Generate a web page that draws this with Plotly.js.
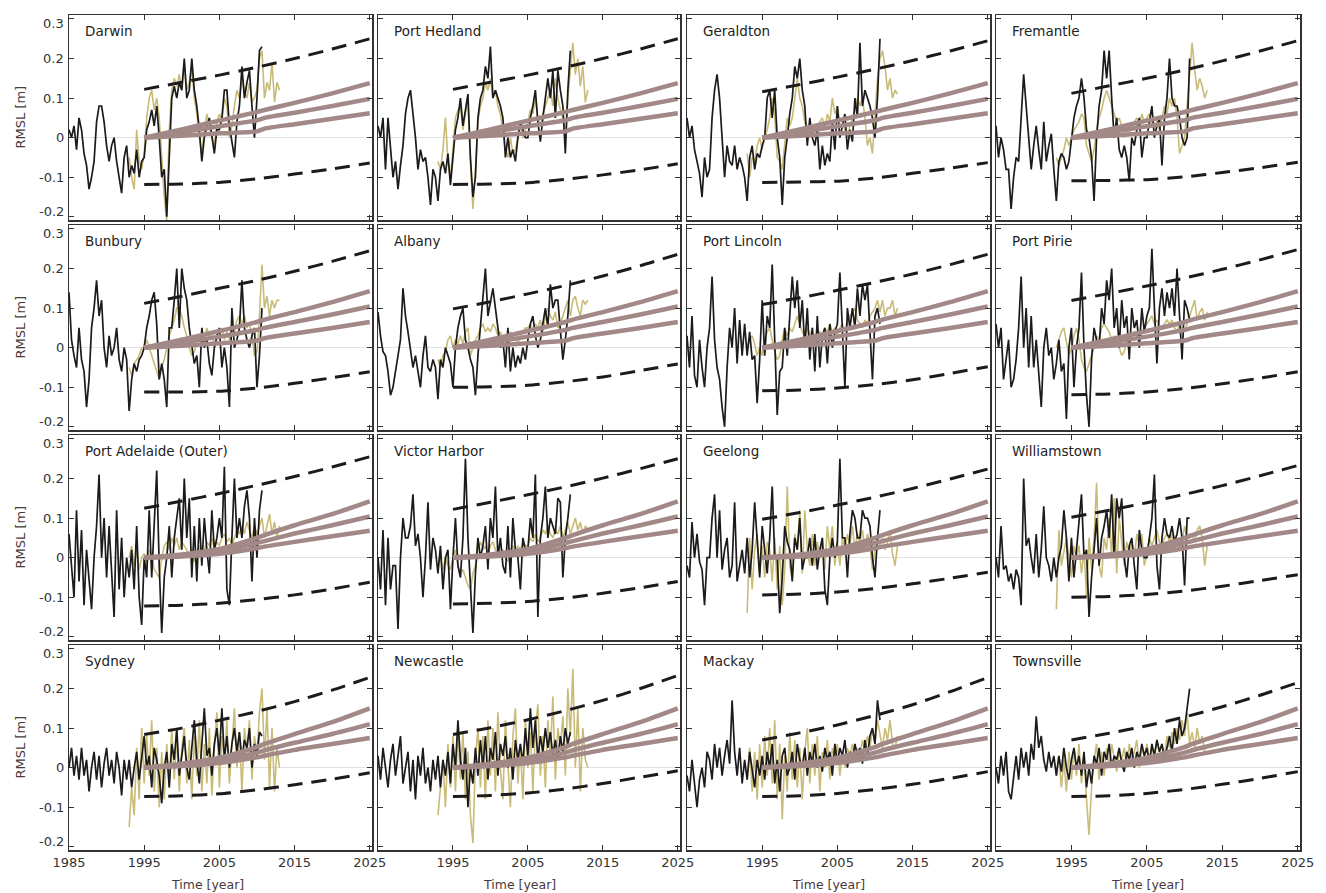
<!DOCTYPE html>
<html>
<head>
<meta charset="utf-8">
<script src="https://cdn.plot.ly/plotly-3.0.1.min.js"></script>
<style>
html,body{margin:0;padding:0;background:#fff;}
#chart{width:1326px;height:893px;}
</style>
</head>
<body>
<div id="chart"></div>
<script>
// ---------------- DATA ----------------
const tgStart = 1985;      // first tide-gauge sample (year)
const altStart = 1993;     // first altimetry sample (year)
const sampleStep = 1 / 3;  // sampling interval (years)

const stationNames = ["Darwin", "Port Hedland", "Geraldton", "Fremantle",
  "Bunbury", "Albany", "Port Lincoln", "Port Pirie",
  "Port Adelaide (Outer)", "Victor Harbor", "Geelong", "Williamstown",
  "Sydney", "Newcastle", "Mackay", "Townsville"];

const xTickVals = [1985, 1995, 2005, 2015, 2025];
const yTickVals = [-0.2, -0.1, 0, 0.1, 0.2, 0.3];
const yTickText = ["-0.2", "-0.1", "0", "0.1", "0.2", "0.3"];

const envYears = [1995, 2000, 2005, 2010, 2015, 2020, 2025];
const projYears = [1995, 2000, 2005, 2010, 2011, 2015, 2020, 2025];

// projections (rows of panels)
const projHiRow1 = [0, 0.021, 0.043, 0.065, 0.07, 0.088, 0.112, 0.138];
const projMidRow1 = [0, 0.014, 0.029, 0.044, 0.05, 0.063, 0.08, 0.098];
const projLoRow1 = [0, 0.005, 0.011, 0.016, 0.023, 0.034, 0.048, 0.062];
const projHiRow2 = [0, 0.02, 0.042, 0.065, 0.071, 0.09, 0.115, 0.143];
const projMidRow2 = [0, 0.013, 0.028, 0.045, 0.05, 0.065, 0.084, 0.104];
const projLoRow2 = [0, 0.005, 0.011, 0.018, 0.024, 0.036, 0.05, 0.065];
const projHiRow3 = [0, 0.008, 0.022, 0.05, 0.057, 0.082, 0.11, 0.142];
const projMidRow3 = [0, 0.005, 0.016, 0.037, 0.042, 0.061, 0.082, 0.104];
const projLoRow3 = [0, 0.003, 0.01, 0.024, 0.028, 0.04, 0.054, 0.068];
const projHiRow4 = [0, 0.01, 0.025, 0.052, 0.06, 0.085, 0.115, 0.15];
const projMidRow4 = [0, 0.007, 0.018, 0.038, 0.044, 0.063, 0.085, 0.11];
const projLoRow4 = [0, 0.004, 0.012, 0.026, 0.03, 0.045, 0.06, 0.075];

// envelopes (upper / lower dashed)
const darwinUp = [0.122, 0.14, 0.158, 0.178, 0.2, 0.224, 0.25];
const darwinLo = [-0.118, -0.117, -0.113, -0.104, -0.092, -0.079, -0.064];
const portHedlandUp = [0.122, 0.14, 0.158, 0.178, 0.2, 0.224, 0.25];
const portHedlandLo = [-0.118, -0.117, -0.114, -0.105, -0.094, -0.081, -0.066];
const geraldtonUp = [0.116, 0.134, 0.153, 0.173, 0.195, 0.219, 0.245];
const geraldtonLo = [-0.113, -0.112, -0.11, -0.102, -0.09, -0.077, -0.063];
const fremantleUp = [0.112, 0.131, 0.15, 0.171, 0.194, 0.219, 0.245];
const fremantleLo = [-0.109, -0.108, -0.106, -0.099, -0.088, -0.076, -0.062];
const bunburyUp = [0.112, 0.13, 0.15, 0.17, 0.193, 0.218, 0.245];
const bunburyLo = [-0.112, -0.112, -0.11, -0.102, -0.09, -0.076, -0.061];
const albanyUp = [0.098, 0.116, 0.136, 0.157, 0.181, 0.207, 0.236];
const albanyLo = [-0.1, -0.099, -0.095, -0.086, -0.074, -0.058, -0.041];
const portLincolnUp = [0.109, 0.126, 0.145, 0.165, 0.186, 0.21, 0.236];
const portLincolnLo = [-0.109, -0.107, -0.102, -0.093, -0.081, -0.065, -0.048];
const portPirieUp = [0.119, 0.137, 0.156, 0.176, 0.198, 0.222, 0.248];
const portPirieLo = [-0.119, -0.117, -0.112, -0.103, -0.091, -0.077, -0.061];
const portAdelaideUp = [0.125, 0.143, 0.162, 0.183, 0.205, 0.229, 0.255];
const portAdelaideLo = [-0.122, -0.12, -0.115, -0.106, -0.094, -0.079, -0.062];
const victorHarborUp = [0.122, 0.14, 0.159, 0.179, 0.201, 0.225, 0.25];
const victorHarborLo = [-0.117, -0.115, -0.111, -0.102, -0.09, -0.076, -0.06];
const geelongUp = [0.097, 0.114, 0.133, 0.153, 0.175, 0.199, 0.224];
const geelongLo = [-0.094, -0.092, -0.087, -0.078, -0.066, -0.052, -0.037];
const williamstownUp = [0.102, 0.12, 0.139, 0.16, 0.182, 0.207, 0.233];
const williamstownLo = [-0.1, -0.098, -0.093, -0.084, -0.072, -0.058, -0.043];
const sydneyUp = [0.084, 0.1, 0.12, 0.142, 0.167, 0.196, 0.228];
const sydneyLo = [-0.073, -0.071, -0.066, -0.056, -0.043, -0.029, -0.013];
const newcastleUp = [0.084, 0.101, 0.121, 0.144, 0.17, 0.2, 0.233];
const newcastleLo = [-0.073, -0.07, -0.064, -0.054, -0.04, -0.024, -0.008];
const mackayUp = [0.07, 0.088, 0.108, 0.132, 0.159, 0.192, 0.228];
const mackayLo = [-0.073, -0.071, -0.065, -0.055, -0.042, -0.027, -0.01];
const townsvilleUp = [0.07, 0.087, 0.106, 0.128, 0.154, 0.183, 0.215];
const townsvilleLo = [-0.073, -0.071, -0.065, -0.055, -0.042, -0.027, -0.01];

// tide gauge (black), from 1985 every 1/3 year
const darwinTG = [0.02,0.0,0.03, -0.03,0.05,0.02, -0.04,-0.07,-0.13, -0.1,-0.06,0.04, 0.08,0.08,0.04,
  -0.02,-0.06,-0.02, 0.0,-0.06,-0.1, -0.14,-0.05,-0.02, -0.1,-0.07,-0.09, -0.03,-0.1,-0.06,
  -0.05,0.02,0.04, 0.07,0.03,0.08, 0.0,-0.1,-0.08, -0.2,-0.05,0.1, 0.13,0.1,0.14,
  0.12,0.2,0.1, 0.12,0.2,0.12, 0.08,0.02,-0.06, 0.0,0.03,0.05, 0.0,-0.04,0.02,
  0.02,0.05,0.12, 0.12,0.03,-0.01, -0.05,0.04,0.08, 0.18,0.1,0.14, 0.17,0.08,0.0, 0.1,0.22,0.23];
const portHedlandTG = [0.03,0.0,0.05, -0.08,0.05,-0.03, -0.1,-0.06,-0.13, -0.07,-0.02,0.06, 0.1,0.12,0.06,
  0.0,-0.08,-0.03, -0.06,-0.05,-0.1, -0.17,-0.08,-0.1, -0.16,-0.08,-0.06, -0.09,-0.04,-0.12,
  -0.05,0.02,0.05, 0.1,0.03,0.07, 0.11,-0.05,-0.15, -0.1,0.05,0.1, 0.12,0.18,0.15,
  0.23,0.1,0.12, 0.1,0.08,0.05, -0.05,0.0,-0.05, -0.03,-0.06,0.0, 0.04,0.02,0.0,
  0.0,0.05,0.08, 0.12,0.04,-0.01, 0.05,0.1,0.15, 0.1,0.17,0.05, 0.17,0.12,0.08, -0.04,0.12,0.22];
const geraldtonTG = [0.05,0.0,0.03, -0.03,-0.06,-0.09, -0.15,-0.05,-0.1, -0.08,0.05,0.12, 0.16,0.1,0.0,
  -0.1,-0.02,-0.06, -0.07,-0.02,-0.08, -0.05,-0.07,-0.1, -0.16,-0.05,-0.02, -0.08,-0.04,-0.05,
  -0.02,0.0,0.1, 0.12,0.05,0.12, 0.0,-0.05,-0.17, -0.05,0.0,0.06, 0.1,0.18,0.15,
  0.2,0.12,0.08, -0.02,0.05,0.0, -0.02,0.02,-0.08, -0.02,-0.07,-0.04, -0.06,0.04,-0.03,
  0.08,0.0,0.03, 0.06,-0.03,0.02, -0.01,0.1,0.05, 0.24,0.08,0.12, 0.1,0.08,0.05, 0.0,0.1,0.25];
const fremantleTG = [0.03,-0.05,0.0, -0.03,-0.08,-0.08, -0.18,-0.1,-0.05, -0.06,0.05,0.16, 0.08,0.0,-0.08,
  -0.02,0.03,-0.03, -0.08,0.04,-0.06, -0.02,0.01,-0.08, -0.16,-0.06,-0.04, -0.05,-0.08,-0.06,
  0.0,0.05,0.08, 0.1,0.15,0.1, 0.02,0.0,-0.05, -0.16,0.0,0.08, 0.12,0.22,0.15,
  0.22,0.1,0.0, 0.05,-0.03,-0.05, -0.02,-0.05,-0.11, 0.0,-0.02,0.02, 0.05,-0.05,0.0,
  0.0,0.04,0.08, 0.0,0.03,0.05, -0.07,0.05,0.1, 0.2,0.1,0.08, 0.08,0.05,0.0, -0.02,0.0,0.2];
const bunburyTG = [0.14,0.02,-0.02, -0.05,0.05,-0.03, -0.06,-0.15,-0.08, 0.05,0.1,0.17, 0.08,0.12,0.0,
  -0.05,0.03,-0.02, 0.0,0.05,-0.03, -0.06,0.0,-0.03, -0.16,-0.08,-0.04, -0.06,-0.03,-0.02,
  0.0,0.05,0.08, 0.12,0.14,0.06, -0.08,-0.04,-0.08, -0.15,0.05,0.05, 0.12,0.2,0.05,
  0.2,0.15,0.12, 0.05,0.0,-0.04, -0.02,-0.1,0.05, 0.0,0.02,-0.04, -0.07,0.0,0.03,
  0.05,-0.05,0.0, -0.05,-0.15,0.1, 0.0,0.02,0.05, 0.17,0.05,0.02, 0.0,0.03,0.05, -0.1,-0.02,0.1];
const albanyTG = [0.09,0.03,-0.01, -0.02,-0.06,-0.12, -0.1,-0.06,-0.02, 0.02,0.15,0.08, 0.04,0.0,-0.05,
  -0.02,-0.06,-0.1, -0.02,0.03,-0.05, -0.06,-0.03,-0.05, -0.13,-0.03,-0.05, 0.0,-0.02,-0.04,
  -0.1,0.0,0.05, 0.08,0.1,0.02, 0.0,-0.03,-0.05, -0.12,-0.02,0.06, 0.12,0.2,0.08,
  0.12,0.15,0.1, 0.05,0.0,0.02, -0.05,0.05,-0.06, 0.0,-0.05,-0.02, -0.04,0.0,-0.03,
  0.02,0.06,0.08, 0.03,0.0,0.02, 0.06,0.1,0.05, 0.16,0.1,0.12, 0.12,0.05,-0.03, 0.02,0.08,0.17];
const portLincolnTG = [0.03,-0.05,0.08, -0.07,-0.1,0.02, -0.05,-0.1,0.0, 0.05,0.18,0.02, -0.05,-0.08,-0.15,
  -0.2,-0.05,0.05, 0.0,0.1,-0.04, 0.07,-0.02,0.06, -0.02,0.04,-0.03, -0.02,-0.14,-0.03,
  0.12,-0.02,0.08, 0.05,0.21,0.0, -0.17,-0.06,-0.05, 0.05,-0.02,0.08, 0.18,0.1,0.17,
  0.05,0.12,0.0, 0.1,-0.03,0.05, -0.06,0.08,-0.05, 0.03,0.05,-0.04, 0.06,0.0,0.04,
  0.06,0.19,0.05, -0.1,0.1,0.05, 0.1,0.05,0.15, 0.08,0.16,0.12, 0.16,0.05,-0.08, 0.08,0.1,0.06];
const portPirieTG = [0.06,0.0,0.05, -0.08,-0.03,0.02, -0.1,-0.08,-0.03, 0.05,0.18,0.0, 0.1,-0.05,0.08,
  -0.05,0.02,-0.06, -0.15,0.0,0.05, -0.02,0.0,-0.08, -0.04,0.02,-0.06, -0.04,-0.18,0.0,
  0.05,-0.1,0.0, 0.05,0.19,0.0, -0.12,-0.2,-0.03, 0.05,0.02,0.0, 0.1,0.06,0.17,
  0.12,0.2,0.05, 0.1,0.0,0.12, 0.05,0.08,-0.03, 0.1,0.05,0.07, 0.0,0.1,0.04,
  0.08,0.1,0.25, 0.1,-0.04,0.1, 0.15,0.08,0.14, 0.1,0.15,0.08, 0.2,0.08,-0.03, 0.12,0.1,0.07];
const portAdelaideTG = [0.06,-0.02,-0.1, 0.12,-0.06,0.07, -0.12,0.02,-0.05, -0.13,0.0,0.08, 0.21,0.0,0.1,
  -0.05,0.08,-0.03, -0.15,0.12,-0.08, 0.05,-0.1,0.0, -0.05,0.02,-0.08, 0.08,-0.1,-0.17,
  0.0,-0.05,0.12, -0.05,0.07,0.22, -0.02,-0.19,-0.05, 0.0,0.08,-0.05, 0.05,0.1,0.15,
  0.02,0.2,0.05, 0.15,-0.05,0.08, -0.06,0.1,-0.02, 0.1,0.02,-0.04, 0.12,0.02,0.05,
  0.1,0.05,0.23, -0.08,-0.12,0.05, 0.2,0.05,0.1, 0.05,0.13,0.17, 0.1,-0.06,0.1, 0.0,0.12,0.17];
const victorHarborTG = [0.0,-0.08,0.07, -0.12,0.05,-0.08, -0.02,-0.02,-0.18, 0.0,0.1,0.05, 0.05,0.08,0.16,
  0.03,0.06,0.0, -0.1,0.0,0.14, -0.03,0.05,0.02, -0.04,0.03,-0.08, 0.0,0.02,-0.13,
  0.0,0.1,-0.02, -0.05,0.05,0.25, 0.05,-0.08,-0.19, -0.04,0.05,0.0, 0.03,0.08,-0.03,
  0.1,0.05,0.18, 0.0,0.05,-0.02, -0.04,0.08,-0.05, 0.1,0.02,0.0, -0.08,0.05,0.02,
  0.02,0.1,0.05, 0.21,-0.15,0.05, 0.1,0.18,0.05, 0.1,0.08,0.06, 0.15,0.14,-0.05, 0.05,0.1,0.16];
const geelongTG = [-0.02,-0.05,0.09, 0.0,0.06,-0.01, -0.03,-0.12,0.0, 0.0,0.1,0.16, 0.0,0.12,-0.03,
  0.02,0.05,-0.05, -0.02,0.14,-0.06, -0.02,0.02,-0.04, 0.05,-0.05,0.02, 0.14,0.05,-0.05,
  0.08,0.02,-0.04, 0.05,0.18,0.0, 0.0,-0.14,-0.05, 0.08,0.04,0.02, -0.06,0.05,0.02,
  0.1,-0.03,0.0, 0.0,0.05,-0.02, 0.06,-0.03,0.02, 0.05,-0.08,-0.12, 0.0,0.05,0.0,
  0.04,0.25,0.05, 0.05,-0.05,0.06, 0.12,0.1,0.05, 0.05,0.12,0.1, 0.1,0.08,0.0, -0.05,0.05,0.12];
const williamstownTG = [0.0,-0.05,0.08, -0.03,-0.02,-0.06, -0.04,-0.08,-0.03, -0.05,-0.12,0.2, 0.03,0.05,0.0,
  -0.04,0.06,-0.05, 0.02,0.13,0.0, -0.02,-0.06,0.0, -0.05,0.0,0.03, 0.12,0.05,-0.06,
  0.05,-0.05,0.02, 0.1,0.16,0.0, 0.02,-0.15,-0.05, 0.02,0.1,-0.02, 0.05,0.08,0.12,
  0.05,0.16,0.0, 0.15,0.1,0.15, 0.0,-0.05,0.03, 0.05,-0.02,-0.08, 0.07,0.02,0.0,
  0.0,0.05,0.1, 0.21,-0.02,-0.08, 0.05,0.1,0.06, 0.05,0.08,0.04, 0.06,0.1,0.05, -0.07,0.1,0.1];
const sydneyTG = [0.0,0.05,-0.02, 0.03,-0.03,0.05, -0.02,0.02,-0.06, 0.0,0.04,-0.03, 0.03,-0.05,0.01,
  0.05,-0.02,0.02, -0.04,0.04,0.0, -0.07,0.02,-0.03, 0.02,-0.05,0.0, 0.04,-0.03,0.02,
  0.08,0.0,0.03, -0.05,0.05,0.02, -0.02,-0.09,0.0, 0.04,-0.05,0.06, 0.02,0.1,-0.02,
  0.03,0.08,0.0, -0.03,0.05,0.12, 0.02,-0.04,0.06, 0.15,0.03,0.05, -0.02,0.06,0.1,
  0.03,0.15,0.02, 0.08,0.0,0.06, 0.1,0.04,0.09, 0.02,0.07,0.05, 0.1,0.0,0.06, 0.03,0.09,0.08];
const newcastleTG = [0.03,-0.03,0.05, 0.0,-0.05,0.02, 0.06,-0.02,0.03, 0.08,-0.04,0.0, 0.04,-0.06,0.02,
  -0.08,0.03,-0.02, 0.05,-0.04,0.0, -0.06,0.02,-0.03, 0.03,-0.05,0.02, -0.02,0.04,-0.04,
  0.06,0.0,0.12, 0.02,-0.03,0.05, -0.1,0.0,-0.04, 0.05,-0.02,0.07, 0.0,0.08,-0.03,
  0.05,0.02,0.09, -0.02,0.06,0.03, 0.08,0.0,0.05, -0.03,0.07,0.02, 0.06,0.01,0.1,
  0.03,0.15,0.05, 0.12,0.02,0.08, 0.04,0.1,0.05, 0.09,0.03,0.07, 0.02,0.08,0.04, 0.1,0.06,0.09];
const mackayTG = [-0.02,-0.06,0.02, -0.04,-0.1,-0.03, 0.0,-0.05,0.04, 0.02,-0.03,0.06, 0.0,0.05,-0.02,
  0.03,0.07,0.01, 0.17,0.04,-0.02, 0.05,-0.04,0.02, -0.03,0.04,0.0, -0.05,0.02,-0.02,
  0.03,-0.03,0.04, 0.0,0.06,-0.04, 0.02,-0.06,0.03, 0.05,-0.02,0.0, 0.04,-0.03,0.06,
  0.02,0.0,0.05, -0.02,0.04,0.01, 0.06,0.0,0.03, -0.01,0.05,0.02, 0.04,-0.02,0.06,
  0.01,0.05,0.03, 0.07,0.0,0.04, 0.02,0.06,0.03, 0.05,0.01,0.07, 0.03,0.08,0.1, 0.06,0.17,0.12];
const townsvilleTG = [0.0,-0.04,0.03, -0.02,0.04,-0.06, -0.08,-0.02,0.03, -0.03,0.05,0.0, 0.04,-0.02,0.06,
  0.02,0.13,0.05, 0.08,0.02,-0.01, 0.04,0.0,0.03, -0.02,0.03,-0.01, 0.05,0.0,-0.03,
  0.02,0.05,0.0, 0.03,-0.02,0.04, -0.05,0.0,-0.04, 0.03,0.01,0.05, -0.02,0.04,0.02,
  0.06,0.0,0.03, 0.02,0.05,0.01, -0.01,0.04,0.02, 0.05,0.0,0.04, 0.02,0.06,0.03,
  0.05,0.01,0.06, 0.03,0.07,0.04, 0.06,0.02,0.05, 0.08,0.04,0.1, 0.06,0.12,0.08, 0.1,0.15,0.2];

// altimetry (khaki), from 1993 every 1/3 year
const darwinAlt = [-0.05,-0.1,-0.13, 0.02,-0.06,-0.08, -0.04,0.05,0.1, 0.12,0.07,0.1, 0.05,-0.05,-0.15,
  -0.21,0.02,0.12, 0.15,0.13,0.16, 0.12,0.19,0.12, 0.14,0.18,0.1, 0.06,0.0,-0.04,
  0.02,0.06,0.03, 0.0,-0.02,0.04, 0.06,0.04,0.1, 0.08,0.0,0.03, 0.08,0.12,0.1,
  0.15,0.12,0.1, 0.14,0.09,0.1, 0.12,0.2,0.22, 0.1,0.14,0.12, 0.19,0.09,0.14, 0.12];
const portHedlandAlt = [-0.06,-0.08,-0.03, 0.05,-0.06,-0.1, -0.03,0.05,0.07, 0.08,0.02,0.06, 0.1,-0.06,-0.18,
  -0.08,0.04,0.08, 0.1,0.14,0.12, 0.15,0.1,0.12, 0.08,0.06,0.02, -0.03,-0.05,0.0,
  -0.04,-0.03,0.0, 0.03,0.0,0.02, 0.04,0.07,0.06, 0.1,0.05,0.03, 0.06,0.08,0.1,
  0.12,0.08,0.15, 0.1,0.07,0.05, 0.0,0.1,0.18, 0.24,0.16,0.2, 0.13,0.18,0.09, 0.12];
const geraldtonAlt = [-0.04,-0.1,-0.05, -0.06,-0.02,0.0, -0.03,0.0,0.02, 0.05,0.1,0.06, -0.05,-0.06,-0.08,
  -0.02,0.05,0.03, 0.05,0.1,0.15, 0.1,0.08,0.04, 0.02,0.0,0.03, 0.0,0.02,0.04,
  0.05,0.02,0.06, 0.04,0.1,0.06, 0.08,0.04,0.05, 0.02,0.0,0.03, 0.05,0.07,0.1,
  0.08,0.1,0.05, -0.02,0.0,-0.04, 0.05,0.15,0.2, 0.22,0.18,0.12, 0.15,0.1,0.12, 0.11];
const fremantleAlt = [-0.05,-0.07,-0.05, -0.03,0.0,-0.02, 0.0,0.02,0.03, 0.04,0.06,0.05, -0.02,-0.04,-0.06,
  -0.03,0.02,0.05, 0.07,0.1,0.12, 0.1,0.08,0.06, 0.04,0.05,0.03, 0.0,0.02,0.01,
  0.03,0.04,0.05, 0.03,0.06,0.04, 0.05,0.06,0.03, 0.05,0.04,0.02, 0.05,0.08,0.06,
  0.1,0.08,0.1, 0.05,-0.04,-0.02, 0.0,0.08,0.15, 0.24,0.17,0.12, 0.15,0.13,0.1, 0.12];
const bunburyAlt = [-0.05,-0.07,-0.04, -0.03,-0.02,0.0, 0.0,0.02,0.0, -0.02,-0.04,-0.06, -0.08,-0.05,-0.03,
  0.0,0.03,0.05, 0.07,0.1,0.1, 0.08,0.05,0.03, 0.0,-0.02,-0.01, 0.02,0.03,0.01,
  0.02,0.05,0.03, 0.04,0.0,0.02, 0.03,0.05,0.02, 0.04,0.02,0.06, 0.04,0.07,0.08,
  0.06,0.08,0.05, 0.06,0.03,-0.02, -0.01,0.08,0.21, 0.1,0.13,0.08, 0.12,0.1,0.12, 0.12];
const albanyAlt = [-0.03,-0.05,-0.02, -0.01,0.02,0.03, 0.0,0.02,0.01, 0.03,0.01,0.04, 0.05,-0.02,0.0,
  0.02,0.03,0.05, 0.06,0.04,0.05, 0.04,0.06,0.05, 0.03,0.04,0.02, 0.03,0.02,0.04,
  0.03,0.02,0.01, 0.03,0.04,0.05, 0.05,0.06,0.04, 0.06,0.05,0.07, 0.04,0.08,0.1,
  0.08,0.07,0.09, 0.05,0.06,0.08, 0.1,0.12,0.08, 0.12,0.13,0.1, 0.08,0.12,0.11, 0.12];
const portLincolnAlt = [0.0,0.02,0.03, 0.01,-0.02,0.0, -0.02,0.02,0.04, 0.05,0.02,-0.01, -0.03,-0.02,0.02,
  0.05,0.03,0.05, 0.04,0.06,0.08, 0.06,0.04,0.03, 0.05,0.03,0.05, 0.02,0.03,0.04,
  0.03,0.05,0.04, 0.06,0.04,0.05, 0.03,0.05,0.06, 0.04,0.07,0.08, 0.09,0.1,0.07,
  0.06,0.05,0.07, 0.06,0.08,0.09, 0.1,0.12,0.09, 0.12,0.08,0.1, 0.1,0.12,0.08, 0.1];
const portPirieAlt = [0.0,0.02,0.04, 0.05,0.01,-0.02, 0.0,0.03,0.05, 0.02,-0.03,-0.05, -0.06,-0.04,-0.02,
  0.0,0.03,0.02, 0.05,0.06,0.05, 0.04,0.02,0.03, 0.01,0.0,-0.02, -0.01,0.02,0.01,
  0.03,0.04,0.03, 0.02,0.04,0.05, 0.06,0.07,0.08, 0.06,0.07,0.05, 0.05,0.06,0.07,
  0.06,0.07,0.05, 0.04,0.06,0.05, 0.04,0.06,0.08, 0.1,0.12,0.07, 0.09,0.1,0.07, 0.09];
const portAdelaideAlt = [0.0,0.03,-0.02, 0.02,-0.03,0.0, 0.01,-0.02,0.02, 0.0,-0.03,-0.04, -0.05,0.0,0.03,
  0.04,0.02,0.05, 0.03,0.05,0.02, 0.04,0.03,0.02, 0.0,0.02,-0.01, 0.01,0.03,0.0,
  0.02,0.04,0.03, 0.05,0.02,0.04, 0.03,0.05,0.06, 0.04,0.05,0.03, 0.05,0.07,0.06,
  0.08,0.06,0.09, 0.07,0.05,0.08, 0.06,0.08,0.1, 0.05,0.08,0.11, 0.06,0.09,0.05, 0.08];
const victorHarborAlt = [-0.02,0.0,-0.03, 0.0,-0.02,-0.03, 0.0,0.02,-0.02, -0.04,-0.03,-0.05, -0.07,-0.08,-0.04,
  -0.02,0.02,0.04, 0.02,0.03,0.01, 0.03,0.04,0.02, 0.0,0.01,0.02, 0.0,-0.01,0.02,
  0.03,0.01,0.03, 0.02,0.04,0.03, 0.03,0.05,0.04, 0.06,0.04,0.05, 0.07,0.06,0.08,
  0.06,0.05,0.07, 0.06,0.08,0.05, 0.07,0.09,0.06, 0.08,0.1,0.07, 0.09,0.06,0.08, 0.07];
const geelongAlt = [-0.14,0.05,-0.08, 0.02,0.06,-0.04, 0.03,-0.05,0.04, 0.02,-0.06,0.05, -0.08,0.03,-0.12,
  -0.03,0.18,-0.02, -0.05,0.06,0.02, 0.12,-0.04,0.12, 0.02,-0.02,0.06, -0.02,0.04,0.0,
  0.05,-0.03,0.08, 0.02,0.08,-0.02, 0.04,-0.02,0.05, 0.02,0.06,0.03, 0.08,0.02,0.06,
  0.04,0.07,0.02, 0.06,0.03,-0.03, 0.02,0.05,0.03, 0.05,0.02,0.04, 0.07,0.01,-0.02, 0.03];
const williamstownAlt = [-0.13,0.07,-0.02, 0.02,0.05,0.0, -0.05,0.03,0.0, 0.03,-0.04,0.02, -0.1,0.05,-0.03,
  0.05,0.19,-0.02, -0.05,0.05,0.02, 0.1,0.0,0.15, -0.04,0.1,0.03, -0.02,0.04,0.01,
  0.04,0.0,0.06, 0.03,0.06,-0.02, 0.01,0.05,0.03, 0.05,0.07,0.04, 0.03,0.05,0.06,
  0.04,0.06,0.02, 0.05,0.02,0.04, 0.08,0.05,0.06, 0.06,0.04,0.07, 0.08,0.05,-0.02, 0.03];
const sydneyAlt = [-0.15,-0.05,-0.12, 0.05,-0.08,0.1, -0.04,0.08,-0.02, 0.12,-0.06,0.05, -0.1,0.04,-0.08,
  0.06,-0.05,0.1, -0.03,0.09,-0.06, 0.05,0.1,-0.04, 0.07,-0.08,0.08, -0.02,0.12,-0.06,
  0.06,-0.04,0.1, -0.07,0.05,0.14, -0.05,0.08,0.02, 0.12,-0.04,0.07, 0.15,0.0,0.09,
  -0.06,0.1,0.04, 0.12,-0.03,0.08, 0.03,0.14,0.2, 0.02,0.15,-0.05, 0.1,-0.06,0.05, 0.0];
const newcastleAlt = [-0.12,-0.04,0.02, -0.1,0.06,-0.05, 0.08,-0.06,0.1, -0.03,0.09,-0.08, 0.04,-0.12,-0.19,
  0.02,0.1,-0.05, 0.08,-0.08,0.12, -0.02,0.1,-0.06, 0.14,0.0,-0.08, 0.12,0.02,-0.1,
  0.08,0.15,-0.04, 0.06,-0.08,0.12, 0.0,0.09,-0.06, 0.1,0.16,-0.02, 0.08,-0.05,0.12,
  0.03,0.18,-0.03, 0.1,0.05,0.13, -0.02,0.2,0.08, 0.25,0.0,0.15, -0.06,0.1,0.02, 0.0];
const mackayAlt = [-0.03,0.05,-0.06, 0.04,-0.08,0.06, -0.05,0.08,-0.02, 0.1,-0.04,0.12, -0.08,0.06,-0.13,
  0.03,-0.06,0.09, -0.03,0.07,-0.05, 0.05,-0.08,0.04, 0.1,-0.04,0.06, -0.02,0.08,-0.06,
  0.04,0.0,0.07, -0.03,0.05,0.02, 0.06,-0.02,0.04, 0.0,0.05,0.03, 0.06,0.02,0.05,
  0.03,0.07,0.04, 0.08,0.05,0.1, 0.06,0.12,0.08, 0.05,0.1,0.07, 0.12,0.06,0.05, 0.08];
const townsvilleAlt = [-0.02,0.03,-0.05, 0.02,-0.06,0.04, -0.03,0.05,-0.02, 0.06,-0.04,0.03, -0.08,-0.17,-0.05,
  0.02,0.06,-0.03, 0.04,-0.02,0.05, 0.0,0.06,0.02, -0.01,0.04,0.02, 0.05,0.0,0.06,
  0.02,0.04,0.07, 0.0,0.05,0.03, 0.06,0.02,0.05, 0.03,0.07,0.04, 0.06,0.03,0.08,
  0.05,0.09,0.06, 0.1,0.07,0.12, 0.08,0.14,0.06, 0.09,0.05,0.1, 0.06,0.08,0.04];

// ---------------- ASSEMBLY ----------------
const tgSeries = [darwinTG, portHedlandTG, geraldtonTG, fremantleTG, bunburyTG, albanyTG, portLincolnTG, portPirieTG,
  portAdelaideTG, victorHarborTG, geelongTG, williamstownTG, sydneyTG, newcastleTG, mackayTG, townsvilleTG];
const altSeries = [darwinAlt, portHedlandAlt, geraldtonAlt, fremantleAlt, bunburyAlt, albanyAlt, portLincolnAlt, portPirieAlt,
  portAdelaideAlt, victorHarborAlt, geelongAlt, williamstownAlt, sydneyAlt, newcastleAlt, mackayAlt, townsvilleAlt];
const upSeries = [darwinUp, portHedlandUp, geraldtonUp, fremantleUp, bunburyUp, albanyUp, portLincolnUp, portPirieUp,
  portAdelaideUp, victorHarborUp, geelongUp, williamstownUp, sydneyUp, newcastleUp, mackayUp, townsvilleUp];
const loSeries = [darwinLo, portHedlandLo, geraldtonLo, fremantleLo, bunburyLo, albanyLo, portLincolnLo, portPirieLo,
  portAdelaideLo, victorHarborLo, geelongLo, williamstownLo, sydneyLo, newcastleLo, mackayLo, townsvilleLo];
const projRows = [
  [projHiRow1, projMidRow1, projLoRow1],
  [projHiRow2, projMidRow2, projLoRow2],
  [projHiRow3, projMidRow3, projLoRow3],
  [projHiRow4, projMidRow4, projLoRow4]];

const W = 1326, H = 893;
const colPx = [[69, 372], [378, 680], [687, 990], [996, 1300]];
const rowPx = [[15, 220], [225, 430], [435, 640], [645, 850]];
const yRange = [-0.208, 0.31];

const khaki = "#c9bb78";
const black = "#1c1a1a";
const mauve = "#a38888";
const textColor = "#333333";
const fontFam = "DejaVu Sans, Arial, sans-serif";

const traces = [];
const layout = {
  width: W, height: H,
  margin: {l: 0, r: 0, t: 0, b: 0},
  paper_bgcolor: "#ffffff", plot_bgcolor: "#ffffff",
  showlegend: false, hovermode: false,
  font: {family: fontFam, size: 13, color: textColor},
  annotations: []
};

for (let k = 0; k < 16; k++) {
  const r = Math.floor(k / 4), c = k % 4;
  const id = k === 0 ? "" : String(k + 1);
  const xa = "x" + id, ya = "y" + id;
  const tgX = tgSeries[k].map((_, i) => tgStart + i * sampleStep);
  const altX = altSeries[k].map((_, i) => altStart + i * sampleStep);
  traces.push({x: altX, y: altSeries[k], xaxis: xa, yaxis: ya, type: "scatter", mode: "lines",
    line: {color: khaki, width: 1.6}});
  traces.push({x: tgX, y: tgSeries[k], xaxis: xa, yaxis: ya, type: "scatter", mode: "lines",
    line: {color: black, width: 1.7}});
  projRows[r].forEach(p => traces.push({x: projYears, y: p, xaxis: xa, yaxis: ya, type: "scatter",
    mode: "lines", line: {color: mauve, width: 4.5, shape: "spline", smoothing: 0.6}}));
  [upSeries[k], loSeries[k]].forEach(e => traces.push({x: envYears, y: e, xaxis: xa, yaxis: ya,
    type: "scatter", mode: "lines", line: {color: black, width: 3, dash: "15px,9px", shape: "spline", smoothing: 0.6}}));

  const showX = (r === 3);
  layout["xaxis" + id] = {
    domain: [colPx[c][0] / W, colPx[c][1] / W],
    anchor: ya, range: [1985, 2025.3],
    tickvals: xTickVals,
    ticktext: xTickVals.map(v => (c > 0 && v === 1985) ? "" : String(v)),
    showticklabels: showX,
    ticks: "inside", ticklen: 5, tickwidth: 1, tickcolor: "#333",
    showline: true, mirror: "ticks", linecolor: "#333", linewidth: 1.5,
    showgrid: false, zeroline: false, fixedrange: true,
    tickfont: {family: fontFam, size: 13, color: textColor}
  };
  layout["yaxis" + id] = {
    domain: [1 - rowPx[r][1] / H, 1 - rowPx[r][0] / H],
    anchor: xa, range: yRange,
    tickvals: yTickVals, ticktext: yTickText,
    showticklabels: false,
    ticks: "inside", ticklen: 5, tickwidth: 1, tickcolor: "#333",
    showline: true, mirror: "ticks", linecolor: "#333", linewidth: 1.5,
    showgrid: false, zeroline: true, zerolinecolor: "#e2e2e2", zerolinewidth: 1,
    fixedrange: true
  };
  // y tick labels on the left column, placed as text on the axis scale
  if (c === 0) {
    yTickVals.forEach((v, j) => {
      let yv = v, anchor = "middle";
      if (j === yTickVals.length - 1) { yv = yRange[1]; anchor = "top"; }
      if (j === 0) { yv = yRange[0]; anchor = "bottom"; }
      layout.annotations.push({
        xref: "paper", yref: ya, x: 65 / W, y: yv, xanchor: "right", yanchor: anchor,
        showarrow: false, borderpad: 0, text: yTickText[j],
        font: {family: fontFam, size: 13, color: textColor}
      });
    });
  }
  layout.annotations.push({
    xref: "paper", yref: "paper",
    x: (colPx[c][0] + 14) / W, y: 1 - (rowPx[r][0] + 16) / H,
    xanchor: "left", yanchor: "middle", showarrow: false,
    text: stationNames[k], font: {family: fontFam, size: 13.5, color: "#222"}
  });
}
// axis titles
rowPx.forEach(rp => layout.annotations.push({
  xref: "paper", yref: "paper", x: 20 / W, y: 1 - ((rp[0] + rp[1]) / 2) / H,
  xanchor: "center", yanchor: "middle",
  showarrow: false, textangle: -90, text: "RMSL [m]", font: {family: fontFam, size: 13, color: "#4a3a3a"}
}));
const xTitleCenters = [207, 519, 828, 1147];
xTitleCenters.forEach(xc => layout.annotations.push({
  xref: "paper", yref: "paper", x: xc / W, y: 1 - 884 / H, xanchor: "center", yanchor: "middle",
  showarrow: false, text: "Time [year]", font: {family: fontFam, size: 12.5, color: "#4a3a3a"}
}));

Plotly.newPlot("chart", traces, layout, {staticPlot: true, displayModeBar: false});
</script>
</body>
</html>
